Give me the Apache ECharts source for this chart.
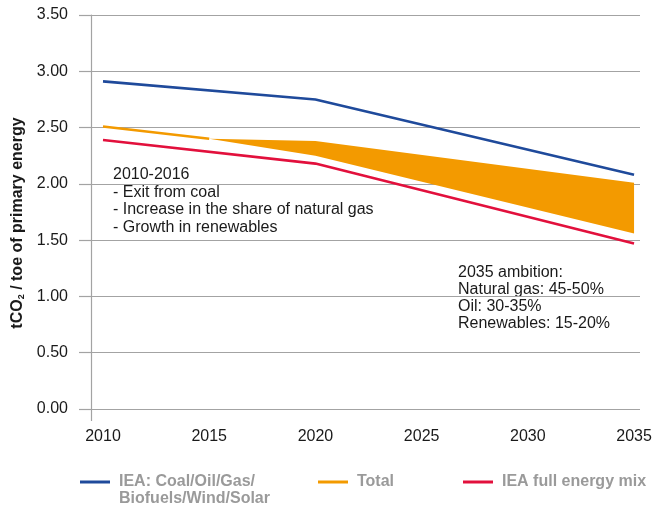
<!DOCTYPE html>
<html>
<head>
<meta charset="utf-8">
<script src="https://cdn.jsdelivr.net/npm/echarts@6/dist/echarts.min.js"></script>
<style>
* { margin: 0; padding: 0; }
#chart-container { width: 660px; height: 509px; background: #fff; }
</style>
</head>
<body>
<div id="chart-container"></div>
<script>
// values
const xTickYears = [2010, 2015, 2020, 2025, 2030, 2035]
const ieaCoalYears = [2010, 2020, 2035]
const ieaCoalValues = [2.91, 2.75, 2.08]
const ieaMixYears = [2010, 2020, 2035]
const ieaMixValues = [2.39, 2.18, 1.47]
const totalYears = [2010, 2015]
const totalValues = [2.51, 2.40]
const bandYears = [2015, 2020, 2035]
const totalLow = [2.40, 2.25, 1.56]
const totalHigh = [2.40, 2.38, 2.01]

const FONT = '"Liberation Sans", Arial, sans-serif'
const GREY = '#a3a3a3'
const ORANGE = '#f39a00'
const X_MIN = 2009.435
const X_MAX = 2035.28

const pairs = (xs, ys) => xs.map((x, i) => [x, ys[i]])

const chartDom = document.getElementById('chart-container')
const myChart = echarts.init(chartDom)

const legendBase = {
  orient: 'horizontal',
  padding: 0,
  icon: 'rect',
  itemWidth: 30,
  itemHeight: 3,
  selectedMode: false,
  textStyle: {
    color: '#9a9a9a',
    fontWeight: 'bold',
    fontSize: 16,
    fontFamily: FONT,
    lineHeight: 17,
    padding: [0, 0, 0, 4]
  }
}

// filled range between the low and high "Total" paths
const renderBand = (params, api) => {
  const upper = bandYears.map((y, i) => api.coord([y, totalHigh[i]]))
  const lower = bandYears.map((y, i) => api.coord([y, totalLow[i]])).reverse()
  return {
    type: 'polygon',
    shape: { points: upper.concat(lower) },
    style: { fill: ORANGE }
  }
}

const option = {
  animation: false,
  grid: { left: 91, right: 20, top: 15, bottom: 100, outerBoundsMode: 'none' },
  legend: [
    Object.assign({}, legendBase, {
      data: ['IEA: Coal/Oil/Gas/Biofuels/Wind/Solar'],
      left: 80,
      top: 456.5,
      formatter: () => ' \nIEA: Coal/Oil/Gas/\nBiofuels/Wind/Solar'
    }),
    Object.assign({}, legendBase, { data: ['Total'], left: 318, top: 473.5 }),
    Object.assign({}, legendBase, { data: ['IEA full energy mix'], left: 463, top: 473.5 })
  ],
  xAxis: {
    type: 'value',
    min: X_MIN,
    max: X_MAX,
    splitLine: { show: false },
    axisLine: { show: false },
    axisTick: {
      show: true,
      customValues: [X_MIN],
      length: 12,
      lineStyle: { color: GREY, width: 1.2 }
    },
    axisLabel: {
      customValues: xTickYears,
      margin: 20,
      fontSize: 16,
      fontFamily: FONT,
      color: '#1a1a1a',
      formatter: v => String(v)
    }
  },
  yAxis: {
    type: 'value',
    min: 0,
    max: 3.5,
    interval: 0.5,
    name: 'tCO{sub|2} / toe of primary energy',
    nameLocation: 'middle',
    nameGap: 64,
    nameTextStyle: {
      fontSize: 16,
      fontWeight: 'bold',
      fontFamily: FONT,
      color: '#1a1a1a',
      padding: [0, 22, 0, 0],
      rich: {
        sub: { fontSize: 9, fontWeight: 'bold', fontFamily: FONT, color: '#1a1a1a', verticalAlign: 'bottom', padding: [6, 0, 0, 0] }
      }
    },
    axisLine: { show: true, lineStyle: { color: GREY, width: 1.2 } },
    axisTick: { show: true, length: 12, lineStyle: { color: GREY, width: 1.2 } },
    splitLine: { show: true, lineStyle: { color: GREY, width: 1.2 } },
    axisLabel: {
      margin: 23,
      fontSize: 16,
      fontFamily: FONT,
      color: '#1a1a1a',
      formatter: v => v.toFixed(2)
    }
  },
  graphic: [
    {
      type: 'text',
      left: 113,
      top: 166,
      style: {
        text: '2010-2016\n- Exit from coal\n- Increase in the share of natural gas\n- Growth in renewables',
        fontSize: 16,
        fontFamily: FONT,
        lineHeight: 17.5,
        fill: '#1a1a1a'
      }
    },
    {
      type: 'text',
      left: 458,
      top: 263.5,
      style: {
        text: '2035 ambition:\nNatural gas: 45-50%\nOil: 30-35%\nRenewables: 15-20%',
        fontSize: 16,
        fontFamily: FONT,
        lineHeight: 17.2,
        fill: '#1a1a1a'
      }
    }
  ],
  series: [
    {
      name: 'Total range',
      type: 'custom',
      renderItem: renderBand,
      data: [[bandYears[0], totalLow[0]]],
      silent: true
    },
    {
      name: 'IEA: Coal/Oil/Gas/Biofuels/Wind/Solar',
      type: 'line',
      data: pairs(ieaCoalYears, ieaCoalValues),
      symbol: 'none',
      color: '#1f4a9b',
      lineStyle: { width: 2.6, color: '#1f4a9b' }
    },
    {
      name: 'Total',
      type: 'line',
      data: pairs(totalYears, totalValues),
      symbol: 'none',
      color: ORANGE,
      lineStyle: { width: 2.6, color: ORANGE }
    },
    {
      name: 'IEA full energy mix',
      type: 'line',
      data: pairs(ieaMixYears, ieaMixValues),
      symbol: 'none',
      color: '#e2103c',
      lineStyle: { width: 2.6, color: '#e2103c' }
    }
  ]
}

myChart.setOption(option)
</script>
</body>
</html>
